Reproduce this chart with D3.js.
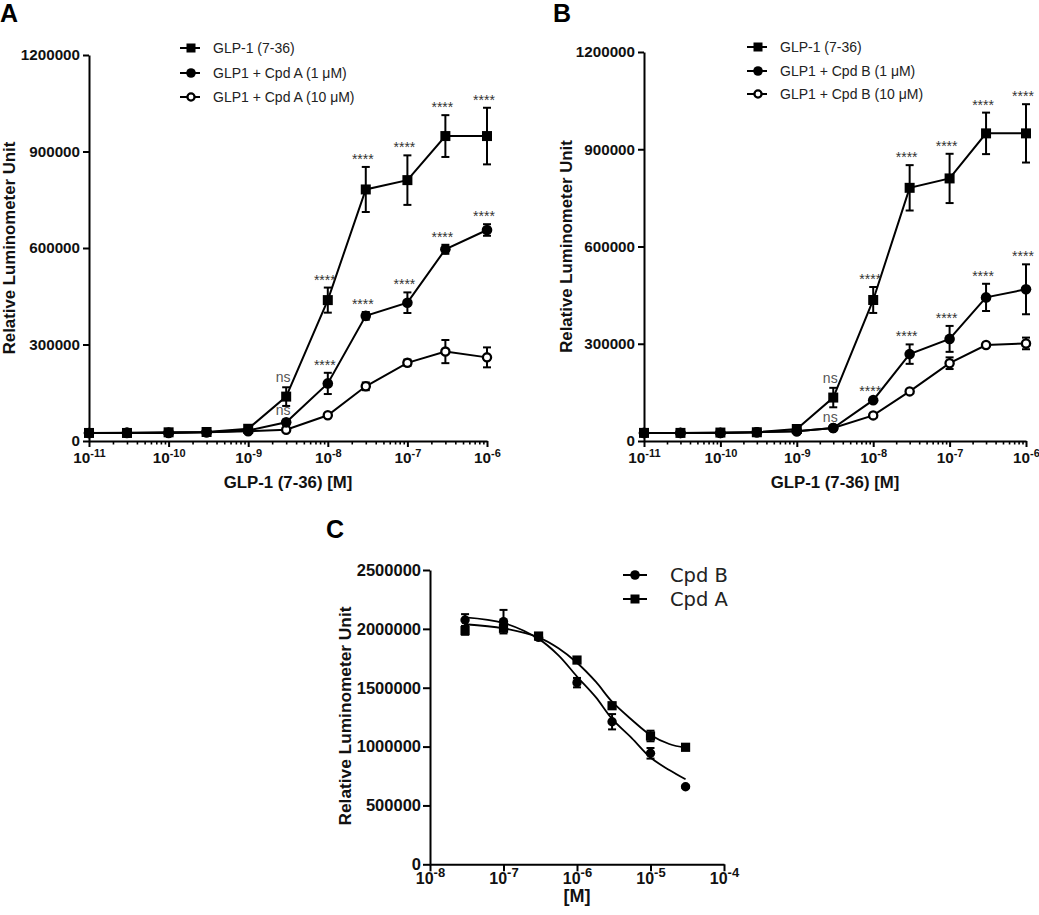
<!DOCTYPE html>
<html><head><meta charset="utf-8">
<script src="https://cdn.jsdelivr.net/npm/d3@7"></script>
<style>
body{margin:0;background:#fff;}
svg{display:block;font-family:"Liberation Sans",Arial,sans-serif;}
</style></head><body>
<svg id="chart" width="1039" height="915"></svg>
<script>
// ---------------- DATA ----------------
const concAB   = [1e-11, 3e-11, 1e-10, 3e-10, 1e-9, 3e-9, 1e-8, 3e-8, 1e-7, 3e-7, 1e-6];
const xTicksAB = [1e-11, 1e-10, 1e-9, 1e-8, 1e-7, 1e-6];
const yTicksAB = [0, 300000, 600000, 900000, 1200000];

// Panel A
const glpA       = [25000, 25000, 27000, 28000, 38000, 138000, 438000, 782000, 811000, 948000, 948000];
const glpErrA    = [3000, 3000, 3000, 3000, 5000, 29000, 39000, 70000, 77000, 65000, 88000];
const cpdA1      = [25000, 26000, 26000, 27000, 33000, 58000, 179000, 389000, 430000, 596000, 656000];
const cpdA1Err   = [2000, 2000, 2000, 2000, 3000, 8000, 33000, 12000, 32000, 14000, 18000];
const cpdA10     = [25000, 25000, 25000, 27000, 30000, 35000, 80000, 170000, 243000, 278000, 260000];
const cpdA10Err  = [2000, 2000, 2000, 2000, 2000, 3000, 6000, 12000, 10000, 36000, 31000];
const sigGlpA    = ["", "", "", "", "", "ns", "****", "****", "****", "****", "****"];
const sigCpdA1   = ["", "", "", "", "", "ns", "****", "****", "****", "****", "****"];

// Panel B
const glpB       = [25000, 25000, 26000, 27000, 37000, 134000, 435000, 781000, 810000, 949000, 949000];
const glpErrB    = [3000, 3000, 3000, 3000, 5000, 30000, 40000, 70000, 76000, 64000, 90000];
const cpdB1      = [25000, 25000, 25000, 27000, 30000, 40000, 126000, 268000, 315000, 443000, 468000];
const cpdB1Err   = [2000, 2000, 2000, 2000, 2000, 3000, 4000, 30000, 40000, 42000, 77000];
const cpdB10     = [25000, 25000, 25000, 27000, 30000, 40000, 79000, 153000, 240000, 296000, 301000];
const cpdB10Err  = [2000, 2000, 2000, 2000, 2000, 3000, 4000, 5000, 18000, 6000, 18000];
const sigGlpB    = ["", "", "", "", "", "ns", "****", "****", "****", "****", "****"];
const sigCpdB1   = ["", "", "", "", "", "ns", "****", "****", "****", "****", "****"];

const legendA = ["GLP-1 (7-36)", "GLP1 + Cpd A (1 \u03bcM)", "GLP1 + Cpd A (10 \u03bcM)"];
const legendB = ["GLP-1 (7-36)", "GLP1 + Cpd B (1 \u03bcM)", "GLP1 + Cpd B (10 \u03bcM)"];

// Panel C
const concC    = [3e-8, 1e-7, 3e-7, 1e-6, 3e-6, 1e-5, 3e-5];
const xTicksC  = [1e-8, 1e-7, 1e-6, 1e-5, 1e-4];
const yTicksC  = [0, 500000, 1000000, 1500000, 2000000, 2500000];
const cpdBC    = [2075000, 2061000, 1928000, 1543000, 1211000, 943000, 659000];
const cpdBCErr = [50000, 100000, 20000, 40000, 65000, 45000, 10000];
const cpdAC    = [1985000, 2005000, 1939000, 1735000, 1347000, 1090000, 994000];
const cpdACErr = [35000, 20000, 20000, 25000, 20000, 45000, 10000];
// fitted curves
const fitConc  = [3e-8, 1e-7, 3e-7, 5.6e-7, 1e-6, 1.8e-6, 3e-6, 5.6e-6, 1e-5, 1.8e-5, 3e-5];
const fitBC    = [2098000, 2050000, 1915000, 1775000, 1595000, 1420000, 1235000, 1070000, 907000, 801000, 722000];
const fitAC    = [2039000, 2005000, 1928000, 1835000, 1712000, 1551000, 1381000, 1226000, 1098000, 1022000, 990000];
const legendC  = ["Cpd B", "Cpd A"];

// ---------------- DRAWING ----------------
const svg = d3.select("#chart");
const FONT = "Liberation Sans, Arial, sans-serif";

function marker(g, shape, cx, cy, s) {
  if (shape === "square") {
    g.append("rect").attr("x", cx - s).attr("y", cy - s).attr("width", 2 * s).attr("height", 2 * s).attr("fill", "#000");
  } else if (shape === "circle") {
    g.append("circle").attr("cx", cx).attr("cy", cy).attr("r", s + 0.3).attr("fill", "#000");
  } else {
    g.append("circle").attr("cx", cx).attr("cy", cy).attr("r", s - 0.9).attr("fill", "#fff")
      .attr("stroke", "#000").attr("stroke-width", 2.3);
  }
}

function supLabels(sel, supSize, supDy) {
  sel.each(function (d) {
    const t = d3.select(this);
    const e = Math.round(Math.log10(d));
    t.text(null);
    t.append("tspan").text("10");
    t.append("tspan").attr("font-size", supSize).attr("dy", supDy).text(String(e));
  });
}

function styleAxis(ax, size) {
  ax.attr("font-family", FONT).attr("font-size", size).attr("font-weight", "bold");
  ax.select(".domain").attr("stroke-width", 2).attr("stroke", "#000");
  ax.selectAll(".tick line").attr("stroke-width", 2).attr("stroke", "#000");
  ax.selectAll(".tick text").attr("fill", "#111");
}

function minorTicks(majors) {
  const out = [];
  for (let i = 0; i < majors.length - 1; i++) for (let k = 2; k <= 9; k++) out.push(majors[i] * k);
  return out;
}

function drawSeries(g, x, y, xs, vals, errs, shape, size, withLine, sig) {
  if (withLine) {
    g.append("path").datum(vals)
      .attr("d", d3.line().x((d, i) => x(xs[i])).y(d => y(d)))
      .attr("fill", "none").attr("stroke", "#000").attr("stroke-width", 2);
  }
  const eg = g.append("g").attr("stroke", "#000").attr("stroke-width", 2);
  vals.forEach((v, i) => {
    const e = errs[i];
    if (!e) return;
    const cx = x(xs[i]), y1 = y(v + e), y2 = y(v - e);
    eg.append("line").attr("x1", cx).attr("x2", cx).attr("y1", y1).attr("y2", y2);
    eg.append("line").attr("x1", cx - 4).attr("x2", cx + 4).attr("y1", y1).attr("y2", y1);
    eg.append("line").attr("x1", cx - 4).attr("x2", cx + 4).attr("y1", y2).attr("y2", y2);
  });
  vals.forEach((v, i) => marker(g, shape, x(xs[i]), y(v), size));
  if (sig) {
    vals.forEach((v, i) => {
      const lab = sig[i];
      if (!lab) return;
      const ns = lab === "ns";
      g.append("text").attr("x", x(xs[i]) - 3).attr("y", y(v + errs[i]) - (ns ? 5 : 3))
        .attr("text-anchor", "middle").attr("font-family", FONT)
        .attr("font-size", 14).attr("fill", ns ? "#555" : "#333").text(lab);
    });
  }
}

function drawDoseResponse(o) {
  const g = svg.append("g");
  const x = d3.scaleLog().domain([1e-11, 1e-6]).range(o.xr);
  const y = d3.scaleLinear().domain([0, 1200000]).range(o.yr);

  svg.append("text").attr("x", o.letterX).attr("y", 22).attr("font-family", FONT)
    .attr("font-size", 25).attr("font-weight", "bold").text(o.letter);

  const xa = g.append("g").attr("transform", `translate(0,${y(0)})`)
    .call(d3.axisBottom(x).tickValues(xTicksAB).tickSize(6).tickSizeOuter(0).tickPadding(5).tickFormat(d => d));
  styleAxis(xa, 15.3);
  supLabels(xa.selectAll(".tick text"), 11, "-0.55em");
  const xm = g.append("g").attr("transform", `translate(0,${y(0)})`)
    .call(d3.axisBottom(x).tickValues(minorTicks(xTicksAB)).tickSize(3.5).tickFormat(""));
  xm.select(".domain").remove();
  xm.selectAll(".tick line").attr("stroke", "#000").attr("stroke-width", 1.6);

  const ya = g.append("g").attr("transform", `translate(${o.xr[0]},0)`)
    .call(d3.axisLeft(y).tickValues(yTicksAB).tickSize(6).tickSizeOuter(0).tickPadding(3).tickFormat(d3.format("d")));
  styleAxis(ya, 15.2);

  g.append("text").attr("transform", `translate(${o.yTitleX},${(o.yr[0] + o.yr[1]) / 2}) rotate(-90)`)
    .attr("text-anchor", "middle").attr("dy", "0.35em").attr("font-family", FONT)
    .attr("font-size", 16.8).attr("font-weight", "bold").attr("fill", "#111").text("Relative Luminometer Unit");
  g.append("text").attr("x", (o.xr[0] + o.xr[1]) / 2).attr("y", 488).attr("text-anchor", "middle")
    .attr("font-family", FONT).attr("font-size", 16.8).attr("font-weight", "bold").attr("fill", "#111")
    .text("GLP-1 (7-36) [M]");

  drawSeries(g, x, y, concAB, o.s3, o.e3, "open", 5, true, null);
  drawSeries(g, x, y, concAB, o.s1, o.e1, "square", 5, true, o.sig1);
  drawSeries(g, x, y, concAB, o.s2, o.e2, "circle", 5, true, o.sig2);

  const shapes = ["square", "circle", "open"];
  o.legend.forEach((lab, i) => {
    const ly = o.legY[i];
    const lg = svg.append("g");
    lg.append("line").attr("x1", o.legX).attr("x2", o.legX + 20).attr("y1", ly).attr("y2", ly)
      .attr("stroke", "#000").attr("stroke-width", 2);
    marker(lg, shapes[i], o.legX + 11, ly, 4.5);
    lg.append("text").attr("x", o.legX + 33).attr("y", ly).attr("dy", "0.35em")
      .attr("font-family", FONT).attr("font-size", 14).attr("fill", "#222").text(lab);
  });
}

drawDoseResponse({
  letter: "A", letterX: 0, xr: [89, 487], yr: [441, 55], yTitleX: 9,
  s1: glpA, e1: glpErrA, s2: cpdA1, e2: cpdA1Err, s3: cpdA10, e3: cpdA10Err,
  sig1: sigGlpA, sig2: sigCpdA1, legend: legendA, legX: 180, legY: [48, 73, 97]
});
drawDoseResponse({
  letter: "B", letterX: 553, xr: [644, 1026], yr: [441, 52], yTitleX: 566,
  s1: glpB, e1: glpErrB, s2: cpdB1, e2: cpdB1Err, s3: cpdB10, e3: cpdB10Err,
  sig1: sigGlpB, sig2: sigCpdB1, legend: legendB, legX: 747, legY: [47, 71, 94]
});

// ---------- Panel C ----------
(function () {
  const g = svg.append("g");
  const x = d3.scaleLog().domain([1e-8, 1e-4]).range([430, 724]);
  const y = d3.scaleLinear().domain([0, 2500000]).range([864.3, 570]);

  svg.append("text").attr("x", 326).attr("y", 538).attr("font-family", FONT)
    .attr("font-size", 25).attr("font-weight", "bold").text("C");

  const xa = g.append("g").attr("transform", `translate(0,${y(0)})`)
    .call(d3.axisBottom(x).tickValues(xTicksC).tickSize(7).tickSizeOuter(0).tickPadding(1).tickFormat(d => d));
  styleAxis(xa, 16);
  supLabels(xa.selectAll(".tick text"), 13, "-0.5em");

  const ya = g.append("g").attr("transform", `translate(430,0)`)
    .call(d3.axisLeft(y).tickValues(yTicksC).tickSize(7).tickSizeOuter(0).tickPadding(2).tickFormat(d3.format("d")));
  styleAxis(ya, 16.5);

  g.append("text").attr("transform", `translate(345,716) rotate(-90)`)
    .attr("text-anchor", "middle").attr("dy", "0.35em").attr("font-family", FONT)
    .attr("font-size", 17.3).attr("font-weight", "bold").attr("fill", "#111").text("Relative Luminometer Unit");
  g.append("text").attr("x", 577).attr("y", 902).attr("text-anchor", "middle")
    .attr("font-family", FONT).attr("font-size", 18).attr("font-weight", "bold").attr("fill", "#111").text("[M]");

  const curve = d3.line().x((d, i) => x(fitConc[i])).y(d => y(d)).curve(d3.curveCatmullRom.alpha(0.5));
  g.append("path").datum(fitBC).attr("d", curve).attr("fill", "none").attr("stroke", "#000").attr("stroke-width", 1.8);
  g.append("path").datum(fitAC).attr("d", curve).attr("fill", "none").attr("stroke", "#000").attr("stroke-width", 1.8);

  drawSeries(g, x, y, concC, cpdBC, cpdBCErr, "circle", 4.4, false, null);
  drawSeries(g, x, y, concC, cpdAC, cpdACErr, "square", 4.6, false, null);

  const shapes = ["circle", "square"];
  const legY = [575, 599];
  legendC.forEach((lab, i) => {
    const lg = svg.append("g");
    lg.append("line").attr("x1", 623).attr("x2", 647).attr("y1", legY[i]).attr("y2", legY[i])
      .attr("stroke", "#000").attr("stroke-width", 2);
    marker(lg, shapes[i], 635, legY[i], 4.5);
    lg.append("text").attr("x", 670).attr("y", legY[i]).attr("dy", "0.35em")
      .attr("font-family", "DejaVu Sans, sans-serif").attr("font-size", 19.5).attr("fill", "#222").text(lab);
  });
})();
</script>
</body></html>
